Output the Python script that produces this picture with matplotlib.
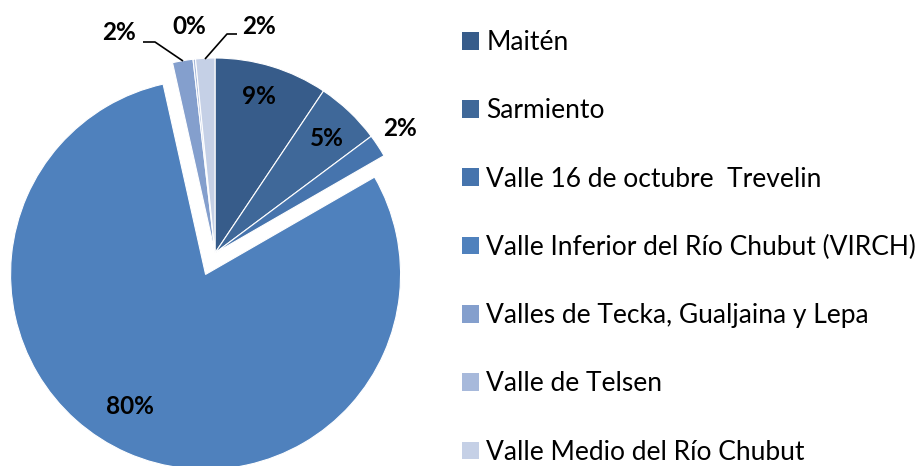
import matplotlib
matplotlib.use("Agg")
import matplotlib.pyplot as plt
from matplotlib.patches import Patch

categories = ["Maitén", "Sarmiento", "Valle 16 de octubre  Trevelin",
              "Valle Inferior del Río Chubut (VIRCH)",
              "Valles de Tecka, Gualjaina y Lepa", "Valle de Telsen",
              "Valle Medio del Río Chubut"]
values = [9.4, 5.4, 1.9, 79.9, 1.7, 0.2, 1.6]
colors = ["#375C8A", "#3F6899", "#4674AD", "#4F81BD", "#849FCD", "#A7B9DB", "#C5D0E6"]
explode = [0, 0, 0, 0.12, 0, 0, 0]

W, H = 922, 466
cx, cy, R = 215, 253, 195  # pixel centre and radius of pie

def px(x, y):
    return ((x - cx) / R, (cy - y) / R)

# label positions (pixels)
label_px = [(259, 97), (327, 139), (400, 128), (130, 407), (119, 32), (189, 26), (259, 27)]

fig = plt.figure(figsize=(W / 100, H / 100), dpi=100)
ax = fig.add_axes([0, 0, 1, 1])

wedges, texts, autotexts = ax.pie(
    values, colors=colors, explode=explode, startangle=90, counterclock=False,
    autopct="%1.0f%%", radius=1.0, center=(0, 0), frame=True,
    wedgeprops=dict(edgecolor="white", linewidth=0.8),
    textprops=dict(fontsize=17.5, fontweight="bold", family=["Lato", "DejaVu Sans"], color="black"))
ax.set_xlim(-cx / R, (W - cx) / R)
ax.set_ylim((cy - H) / R, cy / R)
ax.set_aspect("auto")
ax.axis("off")

for t, p in zip(autotexts, label_px):
    t.set_position(px(*p))
    t.set_ha("center")
    t.set_va("center")

# leader lines
for pts in ([(143, 42), (155, 42), (183, 61)], [(205, 59), (227, 34), (237, 34)]):
    xs, ys = zip(*[px(*p) for p in pts])
    ax.plot(xs, ys, color="black", lw=1.2, solid_capstyle="butt")

handles = [Patch(facecolor=c, edgecolor="none") for c in colors]
leg = fig.legend(handles, categories, loc="upper left", bbox_to_anchor=(462 / W, 1 - 30 / H),
                 frameon=False, prop=dict(family=["Lato", "DejaVu Sans"], size=19),
                 handlelength=0.65, handleheight=0.65, handletextpad=0.27,
                 labelspacing=1.64, borderaxespad=0, borderpad=0)

fig.savefig("out.png", dpi=100)
